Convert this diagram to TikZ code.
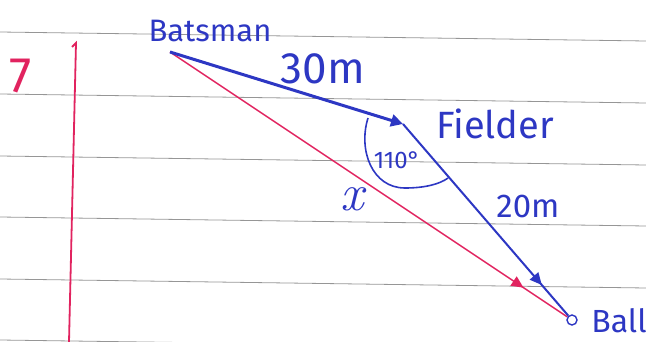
\documentclass[tikz,border=0pt]{standalone}
\usepackage{fontspec}
\setmainfont{Fira Sans}
\newfontfamily\lmfont{Latin Modern Roman}
\usetikzlibrary{arrows.meta,decorations.markings}
\definecolor{inkblue}{RGB}{45,55,195}
\definecolor{inkred}{RGB}{225,35,95}
\definecolor{rulegray}{RGB}{150,150,150}

\begin{document}
\begin{tikzpicture}[x=1pt, y=-1pt,
  lbl/.style={text=inkblue, inner sep=0pt},
  midtip/.style={postaction={decorate}, decoration={markings,
    mark=at position #1 with {\arrow{Triangle[length=12pt,width=11pt]}}}}]
  \useasboundingbox (0,0) rectangle (646,342);
  % ruled paper and margin
  \foreach \y in {32,94,156,217,279,340}
    \draw[rulegray, line width=0.8pt] (0,\y) -- (646,\y+9);
  \draw[inkred, line width=1.8pt] (72,47) -- (76,43) -- (69,342);
  \node[text=inkred, inner sep=0pt, font=\fontsize{50}{50}\selectfont] (qno) at (21,76) {7};
  % points
  \coordinate (bat) at (170,52);
  \coordinate (fld) at (403,124);
  \node[draw=inkblue, circle, line width=1.4pt, minimum size=10pt, inner sep=0pt] (ball) at (572,320) {};
  % sides
  \draw[inkred, line width=1.5pt, midtip=0.89] (bat) -- (ball);
  \draw[inkblue, line width=3pt, -{Triangle[length=12pt,width=12pt]}] (bat) -- (fld);
  \draw[inkblue, line width=2pt, midtip=0.84] (fld) -- (ball);
  % angle at fielder
  \draw[inkblue, line width=1.6pt] (368,118) .. controls (358,150) and (372,188) .. (405,188)
    .. controls (425,188) and (440,184) .. (448,178);
  % labels
  \node[lbl, font=\fontsize{31}{31}\selectfont] (batlbl) at (210,31) {Batsman};
  \node[lbl, font=\fontsize{44}{44}\selectfont] (len30) at (323,69) {30m};
  \node[lbl, font=\fontsize{38}{38}\selectfont] (fldlbl) at (495,124) {Fielder};
  \node[lbl, font=\fontsize{24}{24}\selectfont] (anglbl) at (397,160) {110°};
  \node[lbl, font=\lmfont\itshape\fontsize{52}{52}\selectfont] (xlbl) at (352,199) {x};
  \node[lbl, font=\fontsize{33}{33}\selectfont] (len20) at (528,206) {20m};
  \node[lbl, font=\fontsize{32}{32}\selectfont] (balllbl) at (619,321) {Ball};
\end{tikzpicture}
\end{document}
